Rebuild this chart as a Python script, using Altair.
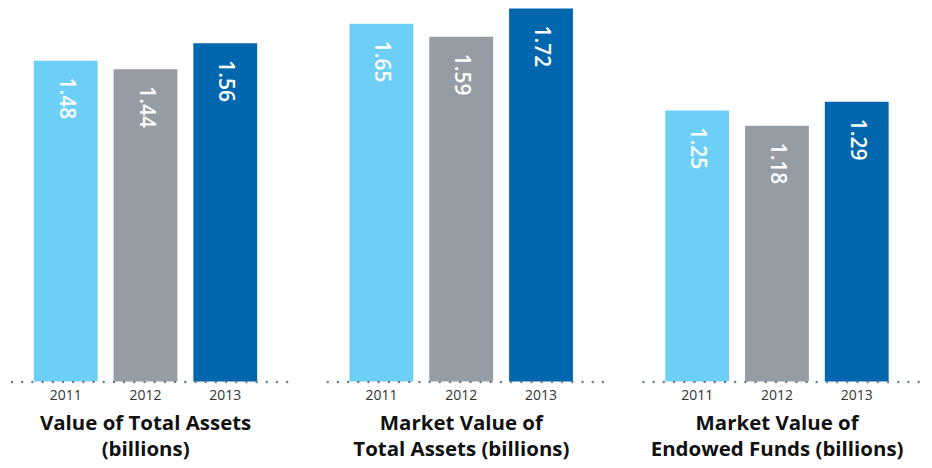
import altair as alt
import pandas as pd

years = ["2011", "2012", "2013"]
titles = [
    ["Value of Total Assets", "(billions)"],
    ["Market Value of", "Total Assets (billions)"],
    ["Market Value of", "Endowed Funds (billions)"],
]
total_assets = [1.48, 1.44, 1.56]
market_total_assets = [1.65, 1.59, 1.72]
endowed_funds = [1.25, 1.18, 1.29]
colors = ["#6ecff6", "#969ca3", "#0066ae"]


def panel(vals, title):
    df = pd.DataFrame({"year": years, "value": vals,
                       "label": [f"{v:.2f}" for v in vals]})
    x = alt.X(
        "year:N", sort=years,
        scale=alt.Scale(paddingInner=0.2, paddingOuter=0.325, align=0.43),
        axis=alt.Axis(
            title=title, labelAngle=0, ticks=False,
            domainDash=[0, 10.22], domainCap="round", domainWidth=2.5,
            domainColor="#6d7c8a", labelPadding=7, labelFont="Open Sans",
            labelFontSize=14, labelColor="#333333", titleFont="Open Sans",
            titleFontSize=20.5, titleFontWeight="bold", titleColor="#111111",
            titleLineHeight=26, titlePadding=11, titleX=134, zindex=1,
        ),
    )
    y = alt.Y("value:Q", scale=alt.Scale(domain=[0, 1.72], nice=False, zero=True),
              axis=None)
    bars = alt.Chart(df).mark_bar().encode(
        x=x, y=y,
        color=alt.Color("year:N", scale=alt.Scale(domain=years, range=colors),
                        legend=None),
    )
    text = alt.Chart(df).mark_text(
        angle=90, align="left", baseline="middle", dx=17, color="white",
        font="Open Sans", fontSize=21, fontWeight=600,
    ).encode(x=alt.X("year:N", sort=years), y=alt.Y("value:Q"), text="label:N")
    return alt.layer(bars, text).properties(width=276, height=374)


chart = alt.hconcat(
    panel(total_assets, titles[0]),
    panel(market_total_assets, titles[1]),
    panel(endowed_funds, titles[2]),
    spacing=40.6,
).properties(
    padding={"left": 3.5, "top": 0, "right": 5, "bottom": 0}
).configure_view(stroke=None)

chart.save("out.html", embed_options={"renderer": "svg", "actions": False})
